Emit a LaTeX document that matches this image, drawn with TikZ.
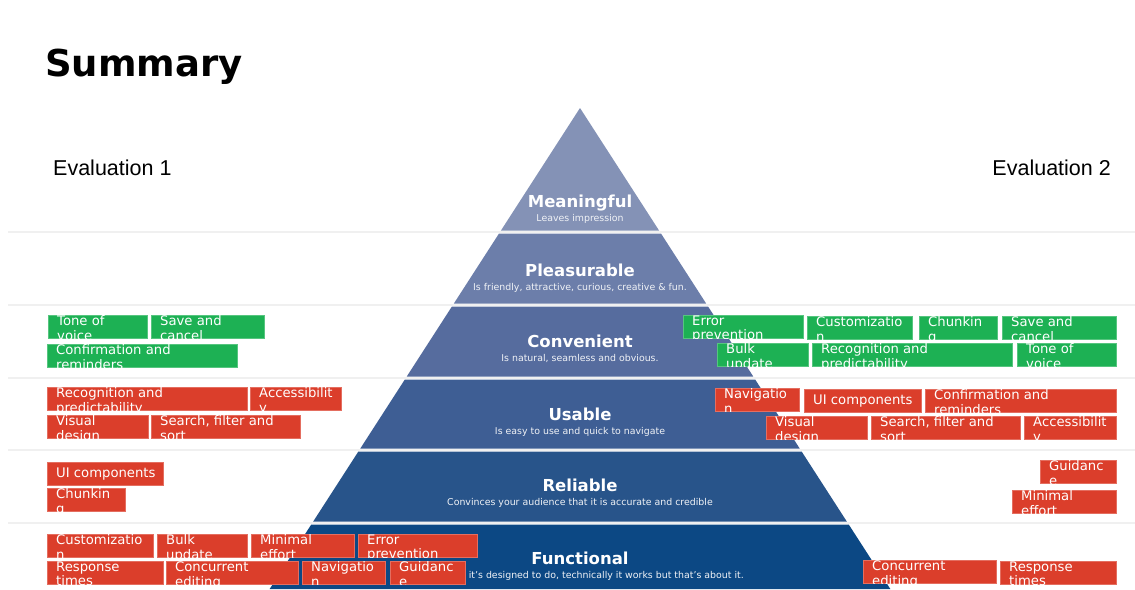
\documentclass[tikz,border=0pt]{standalone}
\usepackage{fontspec}
\setmainfont{DejaVu Sans}
\newfontfamily\evalfont{Liberation Sans}
\usetikzlibrary{calc}

\definecolor{meaningfulc}{RGB}{132,146,182}
\definecolor{pleasurablec}{RGB}{108,126,170}
\definecolor{convenientc}{RGB}{86,108,158}
\definecolor{usablec}{RGB}{62,94,148}
\definecolor{reliablec}{RGB}{40,84,138}
\definecolor{functionalc}{RGB}{12,72,132}
\definecolor{goodc}{RGB}{29,177,84}
\definecolor{badc}{RGB}{219,62,43}
\definecolor{rulec}{RGB}{240,240,240}

% box with two lines of text, cut at the bottom edge
\newcommand{\evalbox}[6]{%
  \node[evalbox,fill=#5,draw=#5!75!white,minimum width={#4pt-#2pt}] (#1) at (#2,#3) {};
  \begin{scope}
    \clip (#1.north west) rectangle (#1.south east);
    \node[boxtext] (#1-t) at ([xshift=9pt,yshift=-0.5pt]#1.north west) {#6};
  \end{scope}}
% box with one line of text
\newcommand{\evalboxone}[6]{%
  \node[evalbox,fill=#5,draw=#5!75!white,minimum width={#4pt-#2pt}] (#1) at (#2,#3) {};
  \node[boxtext,anchor=west] (#1-t) at ([xshift=9pt,yshift=-1pt]#1.west) {#6};}

\begin{document}
\begin{tikzpicture}[x=1pt,y=-1pt,
  evalbox/.style={anchor=north west,inner sep=0pt,outer sep=0pt,minimum height=23pt,line width=0.6pt},
  boxtext/.style={anchor=north west,inner sep=0pt,text=white,align=left,font=\fontsize{13.2}{14.5}\selectfont},
  bandtitle/.style={anchor=base,inner sep=0pt,text=white,font=\bfseries\fontsize{16.5}{18}\selectfont},
  bandsub/.style={anchor=base,inner sep=0pt,text=white!88!meaningfulc,font=\fontsize{9.4}{11}\selectfont}]
  \useasboundingbox[fill=white] (0,0) rectangle (1135,589);

  % pyramid
  \foreach \ya/\yb/\col in {108/230.5/meaningfulc,233.5/303.5/pleasurablec,306.5/376.5/convenientc,
      379.5/448.5/usablec,451.5/521.5/reliablec,524.5/589/functionalc}
    \fill[\col] ({580-0.6452*(\ya-108)},\ya) -- ({580+0.6452*(\ya-108)},\ya)
      -- ({580+0.6452*(\yb-108)},\yb) -- ({580-0.6452*(\yb-108)},\yb) -- cycle;

  % row rules
  \foreach \y in {232,305,378,450,523}
    \draw[rulec,line width=2.5pt] (8,\y) -- (1135,\y);

  \node[anchor=base west,inner sep=0pt,font=\bfseries\fontsize{37}{40}\selectfont] (title) at (45,76) {Summary};
  \node[anchor=base west,inner sep=0pt,font=\evalfont\fontsize{21.5}{24}\selectfont] (eval1) at (53,175) {Evaluation 1};
  \node[anchor=base east,inner sep=0pt,font=\evalfont\fontsize{21.5}{24}\selectfont] (eval2) at (1111,175) {Evaluation 2};

  \node[bandtitle] (meaningful) at (580,207) {Meaningful};
  \node[bandsub] (meaningful-sub) at (580,221.5) {Leaves impression};
  \node[bandtitle] (pleasurable) at (580,276) {Pleasurable};
  \node[bandsub] (pleasurable-sub) at (580,290.5) {Is friendly, attractive, curious, creative \& fun.};
  \node[bandtitle] (convenient) at (580,347) {Convenient};
  \node[bandsub] (convenient-sub) at (580,361.5) {Is natural, seamless and obvious.};
  \node[bandtitle] (usable) at (580,420) {Usable};
  \node[bandsub] (usable-sub) at (580,434.5) {Is easy to use and quick to navigate};
  \node[bandtitle] (reliable) at (580,491) {Reliable};
  \node[bandsub] (reliable-sub) at (580,505.5) {Convinces your audience that it is accurate and credible};
  \node[bandtitle] (functional) at (580,564) {Functional};
  \node[bandsub,anchor=base east] (functional-sub) at (744,578.5) {it’s designed to do, technically it works but that’s about it.};

  % evaluation 1
  \evalbox{l-tone}{48}{315}{147}{goodc}{Tone of\\voice}
  \evalbox{l-save}{151}{315}{264}{goodc}{Save and\\cancel}
  \evalbox{l-confirm}{47}{344}{237}{goodc}{Confirmation and\\reminders}
  \evalbox{l-recog}{47}{387}{247}{badc}{Recognition and\\predictability}
  \evalbox{l-access}{250}{387}{341}{badc}{Accessibilit\\y}
  \evalbox{l-visual}{47}{415}{148}{badc}{Visual\\design}
  \evalbox{l-search}{151}{415}{300}{badc}{Search, filter and\\sort}
  \evalboxone{l-ui}{47}{462}{163}{badc}{UI components}
  \evalbox{l-chunk}{47}{488}{125}{badc}{Chunkin\\g}
  \evalbox{l-custom}{47}{534}{153}{badc}{Customizatio\\n}
  \evalbox{l-bulk}{157}{534}{247}{badc}{Bulk\\update}
  \evalbox{l-minimal}{251}{534}{354}{badc}{Minimal\\effort}
  \evalbox{l-error}{358}{534}{477}{badc}{Error\\prevention}
  \evalbox{l-response}{47}{561}{163}{badc}{Response\\times}
  \evalbox{l-concurrent}{166}{561}{298}{badc}{Concurrent\\editing}
  \evalbox{l-nav}{302}{561}{385}{badc}{Navigatio\\n}
  \evalbox{l-guide}{390}{561}{465}{badc}{Guidanc\\e}

  % evaluation 2
  \evalbox{r-error}{683}{315}{803}{goodc}{Error\\prevention}
  \evalbox{r-custom}{807}{316}{912}{goodc}{Customizatio\\n}
  \evalbox{r-chunk}{919}{316}{997}{goodc}{Chunkin\\g}
  \evalbox{r-save}{1002}{316}{1116}{goodc}{Save and\\cancel}
  \evalbox{r-bulk}{717}{343}{808}{goodc}{Bulk\\update}
  \evalbox{r-recog}{812}{343}{1012}{goodc}{Recognition and\\predictability}
  \evalbox{r-tone}{1017}{343}{1116}{goodc}{Tone of\\voice}
  \evalbox{r-nav}{715}{388}{799}{badc}{Navigatio\\n}
  \evalboxone{r-ui}{804}{389}{921}{badc}{UI components}
  \evalbox{r-confirm}{925}{389}{1116}{badc}{Confirmation and\\reminders}
  \evalbox{r-visual}{766}{416}{867}{badc}{Visual\\design}
  \evalbox{r-search}{871}{416}{1020}{badc}{Search, filter and\\sort}
  \evalbox{r-access}{1024}{416}{1116}{badc}{Accessibilit\\y}
  \evalbox{r-guide}{1040}{460}{1116}{badc}{Guidanc\\e}
  \evalbox{r-minimal}{1012}{490}{1116}{badc}{Minimal\\effort}
  \evalbox{r-concurrent}{863}{560}{996}{badc}{Concurrent\\editing}
  \evalbox{r-response}{1000}{561}{1116}{badc}{Response\\times}
\end{tikzpicture}
\end{document}
